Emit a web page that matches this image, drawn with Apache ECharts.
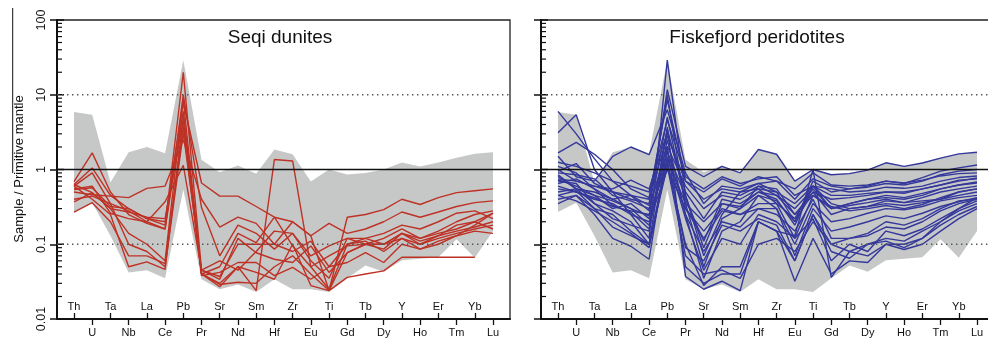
<!DOCTYPE html>
<html><head><meta charset="utf-8">
<script src="https://cdn.jsdelivr.net/npm/echarts@6/dist/echarts.min.js"></script>
<style>html,body{margin:0;padding:0;background:#fff}#c{width:988px;height:339px}</style>
</head><body><div id="c"></div>
<script>
// ---------- DATA ----------
const elements = ['Th','U','Ta','Nb','La','Ce','Pb','Pr','Sr','Nd','Sm','Hf','Zr','Eu','Ti','Gd','Tb','Dy','Y','Ho','Er','Tm','Yb','Lu'];
const yTickLabels = ['0.01','0.1','1','10','100'];
const titles = ['Seqi dunites','Fiskefjord peridotites'];
const yAxisTitle = 'Sample / Primitive mantle';

// grey field (same in both panels)
const envelopeMax = [5.9,5.4,0.67,1.7,2.0,1.65,29,1.35,0.92,1.13,0.88,1.85,1.6,0.69,1.0,0.86,0.9,1.0,1.24,1.1,1.24,1.44,1.63,1.7];
const envelopeMin = [0.27,0.36,0.13,0.042,0.045,0.035,0.54,0.034,0.025,0.029,0.023,0.034,0.025,0.025,0.023,0.035,0.052,0.043,0.061,0.064,0.067,0.117,0.066,0.15];

// Seqi dunites (red)
const seqi1  = [0.63,1.05,0.45,0.3,0.22,0.2,8,0.66,0.44,0.44,0.32,0.23,0.2,0.13,0.024,0.23,0.25,0.29,0.4,0.34,0.42,0.49,0.52,0.55];
const seqi2  = [0.6,0.9,0.35,0.28,0.2,0.16,6,0.04,0.03,0.05,0.024,1.36,1.3,0.05,0.025,0.1,0.12,0.1,0.14,0.12,0.15,0.2,0.25,0.28];
const seqi3  = [0.5,0.46,0.44,0.42,0.56,0.6,2.5,0.4,0.17,0.23,0.19,0.1,0.2,0.13,0.19,0.14,0.16,0.2,0.27,0.23,0.27,0.32,0.36,0.38];
const seqi4  = [0.69,1.67,0.5,0.25,0.19,0.16,10,0.31,0.07,0.18,0.14,0.086,0.14,0.07,0.095,0.12,0.12,0.14,0.18,0.16,0.2,0.26,0.28,0.22];
const seqi5  = [0.63,0.49,0.3,0.27,0.23,0.22,4.6,0.04,0.05,0.14,0.105,0.23,0.095,0.05,0.07,0.095,0.1,0.086,0.14,0.11,0.13,0.18,0.2,0.16];
const seqi6  = [0.54,0.57,0.32,0.3,0.22,0.18,20,0.045,0.034,0.12,0.077,0.063,0.057,0.095,0.042,0.077,0.1,0.12,0.16,0.12,0.14,0.16,0.2,0.26];
const seqi7  = [0.37,0.49,0.3,0.14,0.1,0.06,8.6,0.038,0.042,0.057,0.057,0.038,0.049,0.034,0.05,0.057,0.077,0.057,0.1,0.086,0.11,0.13,0.15,0.14];
const seqi8  = [0.27,0.36,0.2,0.07,0.07,0.055,3.8,0.04,0.027,0.05,0.042,0.034,0.1,0.028,0.024,0.036,0.04,0.044,0.067,0.067,0.067,0.067,0.067,null];
const seqi9  = [0.6,0.4,0.25,0.05,0.058,0.046,5,0.04,0.029,0.031,0.03,0.05,0.07,0.04,0.024,0.077,0.1,0.1,0.14,0.1,0.13,0.15,0.17,0.2];
const seqi10 = [0.4,0.44,0.35,0.1,0.08,0.05,3.1,0.045,0.06,0.045,0.08,0.15,0.14,0.06,0.035,0.12,0.1,0.1,0.12,0.086,0.1,0.13,0.18,0.26];
const seqi11 = [0.55,0.6,0.26,0.22,0.2,0.37,1.14,0.045,0.037,0.1,0.1,0.1,0.08,0.11,0.05,0.1,0.11,0.08,0.12,0.1,0.12,0.14,0.16,0.18];
const seqiSamples = [seqi1,seqi2,seqi3,seqi4,seqi5,seqi6,seqi7,seqi8,seqi9,seqi10,seqi11];

// Fiskefjord peridotites (blue)
const fisk1  = [6.0,3.0,1.4,0.7,0.45,0.28,11.7,1.1,0.8,1.1,0.9,1.85,1.6,0.7,1.0,0.85,0.88,0.98,1.23,1.1,1.22,1.42,1.62,1.7];
const fisk2  = [3.1,5.4,1.0,0.5,0.25,0.12,29,0.45,0.07,0.25,0.5,0.55,0.5,0.2,0.7,0.5,0.55,0.6,0.7,0.65,0.78,0.95,1.05,1.15];
const fisk3  = [1.67,2.3,1.6,1.0,0.55,0.42,8.6,0.7,0.5,0.75,0.6,0.8,0.7,0.4,0.75,0.6,0.55,0.58,0.65,0.62,0.7,0.85,0.95,1.0];
const fisk4  = [1.5,0.8,0.7,1.5,2.0,1.58,6.3,0.9,0.35,0.6,0.55,0.65,0.7,0.55,0.9,0.62,0.6,0.62,0.7,0.66,0.72,0.82,0.88,0.9];
const fisk5  = [1.25,1.1,0.9,0.7,0.6,0.5,4.6,0.8,0.55,0.8,0.65,0.75,0.8,0.45,0.6,0.55,0.5,0.52,0.58,0.56,0.6,0.7,0.78,0.82];
const fisk6  = [1.0,0.7,0.6,0.55,0.72,0.55,3.1,0.5,0.22,0.5,0.45,0.6,0.55,0.25,0.5,0.4,0.42,0.45,0.5,0.48,0.55,0.62,0.7,0.77];
const fisk7  = [0.9,0.85,0.75,0.45,0.38,0.3,2.05,0.6,0.3,0.45,0.4,0.55,0.35,0.12,0.45,0.3,0.35,0.4,0.45,0.42,0.48,0.55,0.62,0.66];
const fisk8  = [0.81,0.55,0.5,0.4,0.45,0.33,1.67,0.45,0.09,0.35,0.32,0.5,0.4,0.18,0.6,0.35,0.3,0.32,0.35,0.33,0.36,0.4,0.5,0.55];
const fisk9  = [0.73,0.6,0.45,0.3,0.35,0.22,1.36,0.35,0.05,0.22,0.3,0.6,0.45,0.3,0.55,0.3,0.33,0.36,0.4,0.36,0.38,0.4,0.45,0.5];
const fisk10 = [0.6,0.5,0.4,0.35,0.25,0.2,1.0,0.3,0.12,0.28,0.25,0.3,0.3,0.1,0.35,0.2,0.22,0.26,0.3,0.29,0.32,0.38,0.42,0.45];
const fisk11 = [0.5,0.55,0.35,0.22,0.18,0.15,2.5,0.25,0.035,0.15,0.2,0.45,0.3,0.07,0.3,0.15,0.17,0.2,0.24,0.22,0.26,0.32,0.37,0.42];
const fisk12 = [0.45,0.52,0.3,0.17,0.13,0.1,3.7,0.037,0.025,0.032,0.024,0.2,0.15,0.06,0.25,0.1,0.12,0.13,0.17,0.16,0.2,0.28,0.35,0.4];
const fisk13 = [0.4,0.45,0.25,0.12,0.094,0.063,2.0,0.05,0.03,0.04,0.04,0.2,0.15,0.032,0.12,0.04,0.06,0.057,0.1,0.085,0.1,0.15,0.22,0.3];
const fisk14 = [0.7,0.65,0.35,0.28,0.2,0.1,1.5,0.22,0.045,0.12,0.1,0.25,0.2,0.12,0.22,0.06,0.1,0.08,0.15,0.13,0.16,0.22,0.3,0.38];
const fisk15 = [0.55,0.5,0.42,0.32,0.28,0.25,1.2,0.1,0.028,0.05,0.05,0.2,0.15,0.13,1.0,0.036,0.08,0.1,0.12,0.11,0.15,0.2,0.28,0.35];
const fisk16 = [0.35,0.45,0.3,0.25,0.15,0.1,1.1,0.07,0.04,0.045,0.035,0.1,0.12,0.08,0.2,0.1,0.08,0.07,0.1,0.1,0.12,0.18,0.25,0.32];
const fisk17 = [0.85,0.55,0.45,0.38,0.3,0.24,5.0,0.35,0.2,0.35,0.3,0.45,0.38,0.2,0.5,0.25,0.3,0.32,0.38,0.36,0.42,0.5,0.55,0.6];
const fisk18 = [0.95,1.2,0.65,0.5,0.45,0.4,2.8,0.7,0.4,0.55,0.5,0.65,0.5,0.35,0.6,0.45,0.45,0.48,0.5,0.5,0.55,0.62,0.72,0.75];
const fisk19 = [0.65,0.75,0.55,0.4,0.3,0.18,1.8,0.25,0.08,0.2,0.17,0.3,0.25,0.15,0.4,0.12,0.12,0.14,0.2,0.18,0.22,0.3,0.38,0.4];
const fisk20 = [1.1,0.9,0.55,0.33,0.27,0.16,3.5,0.4,0.11,0.4,0.35,0.5,0.45,0.25,0.45,0.32,0.28,0.3,0.33,0.3,0.34,0.42,0.5,0.55];
const fisk21 = [0.45,0.38,0.28,0.2,0.14,0.09,1.3,0.09,0.06,0.18,0.15,0.22,0.18,0.06,0.25,0.08,0.065,0.1,0.11,0.09,0.12,0.2,0.3,0.42];
const fisk22 = [0.75,0.7,0.6,0.5,0.4,0.35,10,0.3,0.15,0.3,0.25,0.35,0.35,0.22,0.6,0.3,0.35,0.4,0.42,0.4,0.45,0.55,0.62,0.68];
const fiskSamples = [fisk1,fisk2,fisk3,fisk4,fisk5,fisk6,fisk7,fisk8,fisk9,fisk10,fisk11,fisk12,fisk13,fisk14,fisk15,fisk16,fisk17,fisk18,fisk19,fisk20,fisk21,fisk22];

// ---------- CHART ----------
const FONT = 'Liberation Sans, Arial, sans-serif';
const chart = echarts.init(document.getElementById('c'), null, {renderer:'canvas'});

// axis decorations: [x, value, kind] kind 0 = major tick, 1 = minor tick, 2 = solid ref, 3 = dotted ref
const deco = [];
for (let e = -2; e <= 2; e++) deco.push([0, Math.pow(10, e), 0]);
for (let e = -2; e <= 1; e++) for (let m = 2; m <= 9; m++) deco.push([0, m * Math.pow(10, e), 1]);
deco.push([0, 1, 2]); deco.push([0, 10, 3]); deco.push([0, 0.1, 3]);

function renderDeco(params, api) {
  const v = api.value(1), kind = api.value(2);
  const p = api.coord([0, v]);
  if (kind === 0 || kind === 1) {
    const len = kind === 0 ? 7 : 5;
    return {type:'line', shape:{x1:p[0], y1:p[1], x2:p[0]+len, y2:p[1]}, style:{stroke:'#111', lineWidth: kind === 0 ? 1.5 : 1.2}};
  }
  const q = api.coord([1, v]);
  return {type:'line', shape:{x1:p[0], y1:p[1], x2:q[0], y2:q[1]},
    style: kind === 2 ? {stroke:'#111', lineWidth:1.4} : {stroke:'#555', lineWidth:1.4, lineDash:[1.4,3.6]}};
}
function renderEnv(params, api) {
  if (params.dataIndex !== 0) return;
  const pts = [];
  for (let i = 0; i < elements.length; i++) pts.push(api.coord([i, envelopeMax[i]]));
  for (let i = elements.length - 1; i >= 0; i--) pts.push(api.coord([i, envelopeMin[i]]));
  return {type:'polygon', shape:{points:pts}, style:{fill:'#c6c7c7'}};
}

const grids = [], xAxes = [], yAxes = [], series = [];
function addPanel(p, frameLeft, samples, color, showLabels) {
  const gA = grids.length;
  grids.push({left: frameLeft, top: 20, width: 453, height: 299, show: true, borderColor: '#222', borderWidth: 1.3, backgroundColor: 'transparent', outerBoundsMode: 'none', containLabel: false});
  grids.push({left: frameLeft + 17, top: 20, width: 419, height: 299, show: false, outerBoundsMode: 'none', containLabel: false});
  const xA = xAxes.length;
  xAxes.push({type:'value', gridIndex: gA, min:0, max:1, axisLine:{show:true, onZero:false, lineStyle:{color:'#111', width:2}}, axisTick:{show:false}, axisLabel:{show:false}, splitLine:{show:false}});
  xAxes.push({type:'category', gridIndex: gA+1, data: elements, boundaryGap:false, position:'bottom',
    axisLine:{show:false, onZero:false},
    axisTick:{show:true, inside:true, length:6, interval:(i)=> i % 2 === 0, lineStyle:{color:'#111', width:1.3}},
    axisLabel:{show:true, inside:true, margin:7, interval:(i)=> i % 2 === 0, fontSize:11, color:'#111', fontFamily:FONT},
    splitLine:{show:false}});
  xAxes.push({type:'category', gridIndex: gA+1, data: elements, boundaryGap:false, position:'bottom',
    axisLine:{show:false, onZero:false},
    axisTick:{show:true, inside:false, length:6, interval:(i)=> i % 2 === 1, lineStyle:{color:'#111', width:1.3}},
    axisLabel:{show:true, inside:false, margin:8, interval:(i)=> i % 2 === 1, fontSize:11, color:'#111', fontFamily:FONT},
    splitLine:{show:false}});
  const yA = yAxes.length;
  yAxes.push({type:'log', logBase:10, gridIndex: gA, min:0.01, max:100,
    axisLine:{show:true, lineStyle:{color:'#111', width:2}},
    axisTick:{show:true, inside:false, length:7, lineStyle:{color:'#111', width:1.5}},
    axisLabel:{show: showLabels, rotate:90, margin:9, fontSize:12.5, color:'#111', fontFamily:FONT,
      formatter:(v)=> yTickLabels[Math.round(Math.log10(v)) + 2]},
    splitLine:{show:false}, minorTick:{show:false}});
  yAxes.push({type:'log', logBase:10, gridIndex: gA+1, min:0.01, max:100, show:false});
  series.push({type:'custom', xAxisIndex:xA+1, yAxisIndex:yA+1, data:[[0,1]], renderItem:renderEnv, z:1, silent:true});
  samples.forEach((s) => series.push({type:'line', xAxisIndex:xA+1, yAxisIndex:yA+1, data:s, symbol:'none', connectNulls:false,
    lineStyle:{color:color, width:1.4}, itemStyle:{color:color}, z:3, silent:true, emphasis:{disabled:true}}));
  series.push({type:'custom', xAxisIndex:xA, yAxisIndex:yA, data:deco, renderItem:renderDeco, z:10, silent:true, clip:false});
}
addPanel(0, 57, seqiSamples, '#be3226', true);
addPanel(1, 541, fiskSamples, '#34389b', false);

chart.setOption({
  animation:false,
  backgroundColor:'#fff',
  textStyle:{fontFamily:FONT},
  grid: grids, xAxis: xAxes, yAxis: yAxes, series: series,
  graphic: [
    {type:'text', x:280, y:38, style:{text:titles[0], fontSize:19, fontFamily:FONT, fill:'#111', textAlign:'center', textVerticalAlign:'middle'}},
    {type:'text', x:757, y:38, style:{text:titles[1], fontSize:19, fontFamily:FONT, fill:'#111', textAlign:'center', textVerticalAlign:'middle'}},
    {type:'text', x:19.5, y:169, rotation:Math.PI/2, style:{text:yAxisTitle, fontSize:13, fontFamily:FONT, fill:'#111', textAlign:'center', textVerticalAlign:'middle'}},
    {type:'line', shape:{x1:12.7, y1:8, x2:12.7, y2:173}, style:{stroke:'#111', lineWidth:1}}
  ]
});
</script></body></html>
